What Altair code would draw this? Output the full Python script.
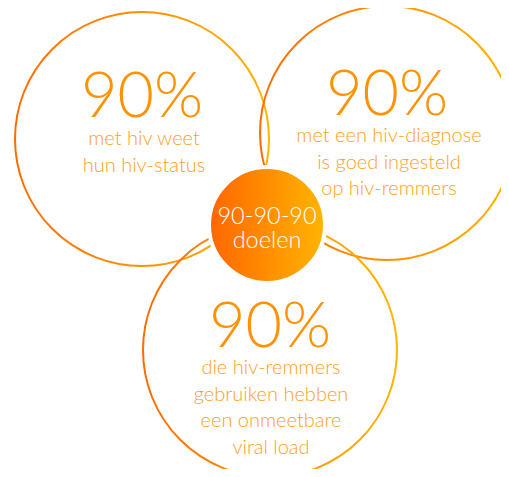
import altair as alt
import pandas as pd

# Data
circle_x = [142, 387, 270]
circle_y = [139, 133, 350]
percent_text = ["90%", "90%", "90%"]
percent_y = [117, 115, 347]
label_lines = [
    ["met hiv weet", "hun hiv-status"],
    ["met een hiv-diagnose", "is goed ingesteld", "op hiv-remmers"],
    ["die hiv-remmers", "gebruiken hebben", "een onmeetbare", "viral load"],
]
label_x = [144, 389, 271]
label_first_y = [145, 142, 374]
line_step = 26.5
center_lines = ["90-90-90", "doelen"]
center_xy = (267, 225)
center_text_y = [224, 248]

W, H = 493, 461
xs = alt.Scale(domain=[8, 8 + W], range=[0, W], nice=False, zero=False)
ys = alt.Scale(domain=[8, 8 + H], range=[0, H], nice=False, zero=False)

big = pd.DataFrame({"x": circle_x, "y": circle_y})
pct = pd.DataFrame({"x": circle_x, "y": percent_y, "t": percent_text})
rows = []
for i, lines in enumerate(label_lines):
    for j, s in enumerate(lines):
        rows.append({"x": label_x[i], "y": label_first_y[i] + j * line_step, "t": s})
lab = pd.DataFrame(rows)
cen = pd.DataFrame({"x": [center_xy[0]], "y": [center_xy[1]]})
cen_t = pd.DataFrame({"x": [center_xy[0]] * 2, "y": center_text_y, "t": center_lines})

grad_stroke = alt.Gradient(
    gradient="linear",
    stops=[alt.GradientStop(color="#ff6c00", offset=0),
           alt.GradientStop(color="#ffb400", offset=1)],
    x1=0, x2=1, y1=0, y2=0,
)
grad_fill = alt.Gradient(
    gradient="linear",
    stops=[alt.GradientStop(color="#ff6600", offset=0),
           alt.GradientStop(color="#ffb500", offset=1)],
    x1=0, x2=1, y1=0, y2=0,
)

X = lambda: alt.X("x:Q", scale=xs, axis=None)
Y = lambda: alt.Y("y:Q", scale=ys, axis=None)

circles = alt.Chart(big).mark_point(
    shape="circle", filled=False, size=254 * 254, stroke=grad_stroke,
    strokeWidth=2, opacity=1,
).encode(x=X(), y=Y())

center = alt.Chart(cen).mark_point(
    shape="circle", filled=True, size=116 * 116, fill=grad_fill,
    stroke="white", strokeWidth=4, opacity=1, fillOpacity=1, strokeOpacity=1,
).encode(x=X(), y=Y())

pct_text = alt.Chart(pct).mark_text(
    font="Lato", fontWeight=300, fontSize=63, color="#ff9200",
    align="center", baseline="alphabetic",
).encode(x=X(), y=Y(), text="t:N")

lab_text = alt.Chart(lab).mark_text(
    font="Lato", fontWeight=300, fontSize=20, color="#ffa01c",
    align="center", baseline="alphabetic",
).encode(x=X(), y=Y(), text="t:N")

cen_text = alt.Chart(cen_t).mark_text(
    font="Lato", fontWeight=300, fontSize=23.5, color="white",
    align="center", baseline="alphabetic",
).encode(x=X(), y=Y(), text="t:N")

chart = alt.layer(circles, center, pct_text, lab_text, cen_text).properties(
    width=W, height=H, padding=0, autosize=alt.AutoSizeParams(type="none"),
).configure_view(stroke=None)

chart.save("out.html", embed_options={"renderer": "svg", "actions": False})
